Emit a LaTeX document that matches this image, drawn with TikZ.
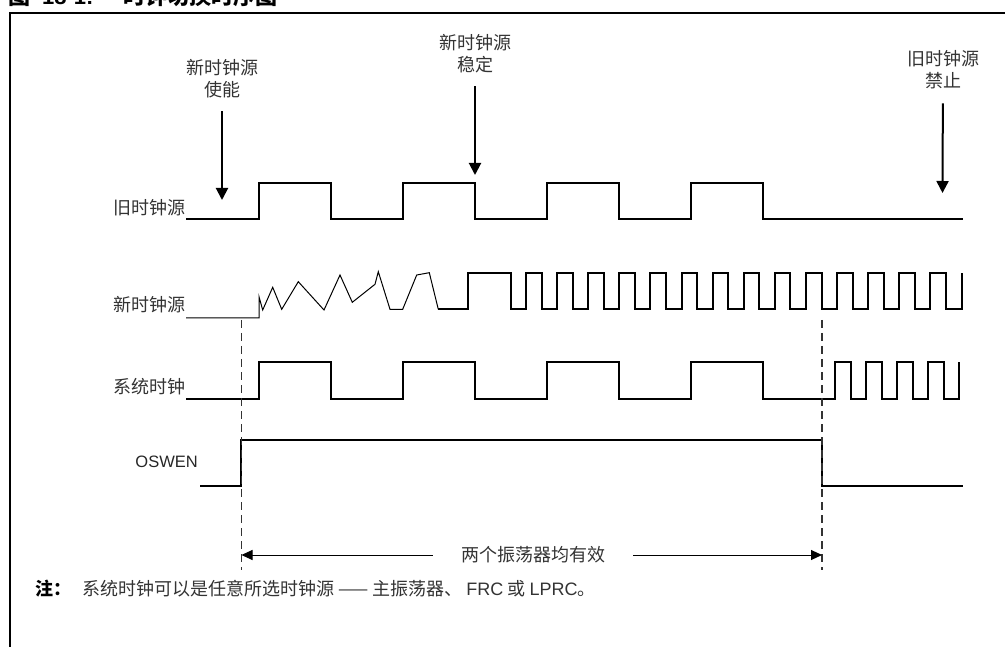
\documentclass[tikz,border=0pt]{standalone}
\usepackage{fontspec}
\setmainfont{Liberation Sans}
\newfontfamily\cjk{Noto Sans CJK SC}
\usetikzlibrary{arrows.meta}

\begin{document}
\begin{tikzpicture}[x=1pt, y=-1pt,
    wave/.style={line width=2pt, line join=miter},
    lbl/.style={inner sep=0pt, font=\cjk\fontsize{18}{22}\selectfont, text=black!80, align=center},
    evt/.style={-{Triangle[length=12pt,width=12pt]}, line width=2pt},
    dim/.style={-{Triangle[length=11pt,width=10pt]}, line width=1pt},
    guide/.style={dash pattern=on 8pt off 5pt, line width=1.5pt, black!80}]
    \useasboundingbox (0,0) rectangle (1005,647);
    \draw[line width=2pt] (10,647) -- (10,13) -- (1005,13);
    \node[anchor=base west, inner sep=0pt, font=\bfseries\fontsize{22}{24}\selectfont] (ttl) at (8,5)
        {{\cjk 图}\hspace{12pt}18-1:\hspace{30pt}{\cjk 时钟切换时序图}};

    \node[lbl, anchor=east] (oldlbl) at (186,208) {旧时钟源};
    \node[lbl, anchor=east] (newlbl) at (186,305) {新时钟源};
    \node[lbl, anchor=east] (syslbl) at (186,387) {系统时钟};
    \node[inner sep=0pt, anchor=east, font=\fontsize{16.5}{18}\selectfont, text=black!85] (oswlbl) at (198,462) {OSWEN};

    \node[lbl] (enlbl) at (222,78.5) {新时钟源\\使能};
    \node[lbl] (stlbl) at (475,53.5) {新时钟源\\稳定};
    \node[lbl] (dislbl) at (943,70) {旧时钟源\\禁止};
    \coordinate (entip) at (222,200);
    \coordinate (sttip) at (475,175);
    \coordinate (distip) at (942.5,193);
    \draw[evt, shorten <=13pt] (enlbl) -- (entip);
    \draw[evt, shorten <=13pt] (stlbl) -- (sttip);
    \draw[evt, shorten <=14pt] (dislbl) -- (distip);

    \draw[wave] (186,219) \foreach \x in {259,403,547,691} {-- (\x,219) -- (\x,183) -- ({\x+72},183) -- ({\x+72},219)} -- (963,219);

    \draw[line width=1pt] (186,318) -- (259,318) -- (259,296.7) -- (262.7,310) -- (272.7,287.3) -- (281.7,309.3)
        -- (298.3,281.7) -- (324,310) -- (340,275) -- (352.3,302.3) -- (375,284.3) -- (378.3,271.7)
        -- (390,309.3) -- (402.7,309.3) -- (416.7,275) -- (429.3,272.7) -- (438.3,309.3);
    \draw[wave] (438.3,309.3) -- (468,309.3) -- (468,273) -- (511,273) -- (511,309.3)
        \foreach \i in {0,...,13} {-- ({526+31.1*\i},309.3) -- ({526+31.1*\i},273) -- ({541.6+31.1*\i},273) -- ({541.6+31.1*\i},309.3)}
        -- (962,309.3) -- (962,273);

    \draw[wave] (186,399) \foreach \x in {259,403,547,691} {-- (\x,399) -- (\x,362) -- ({\x+72},362) -- ({\x+72},399)}
        \foreach \x in {835,866.1,897.2,928.3} {-- (\x,399) -- (\x,362) -- ({\x+15.6},362) -- ({\x+15.6},399)}
        -- (959.3,399) -- (959.3,362);

    \draw[wave] (200,486) -- (241,486) -- (241,440) -- (822,440) -- (822,486) -- (963,486);

    \draw[guide] (241.5,320) -- (241.5,570);
    \draw[guide] (822,320) -- (822,570);

    \coordinate (bl) at (241.5,555);
    \coordinate (br) at (822,555);
    \node[lbl, inner xsep=28pt] (bothlbl) at (533,555) {两个振荡器均有效};
    \draw[dim] (bothlbl) -- (bl);
    \draw[dim] (bothlbl) -- (br);

    \node[inner sep=0pt, anchor=west, font=\cjk\bfseries\fontsize{18}{22}\selectfont] (notelbl) at (35,589) {注：};
    \node[lbl, anchor=west] (notetxt) at (82,589)
        {系统时钟可以是任意所选时钟源 —— 主振荡器、 {\rmfamily FRC} 或 {\rmfamily LPRC}。};
\end{tikzpicture}
\end{document}
